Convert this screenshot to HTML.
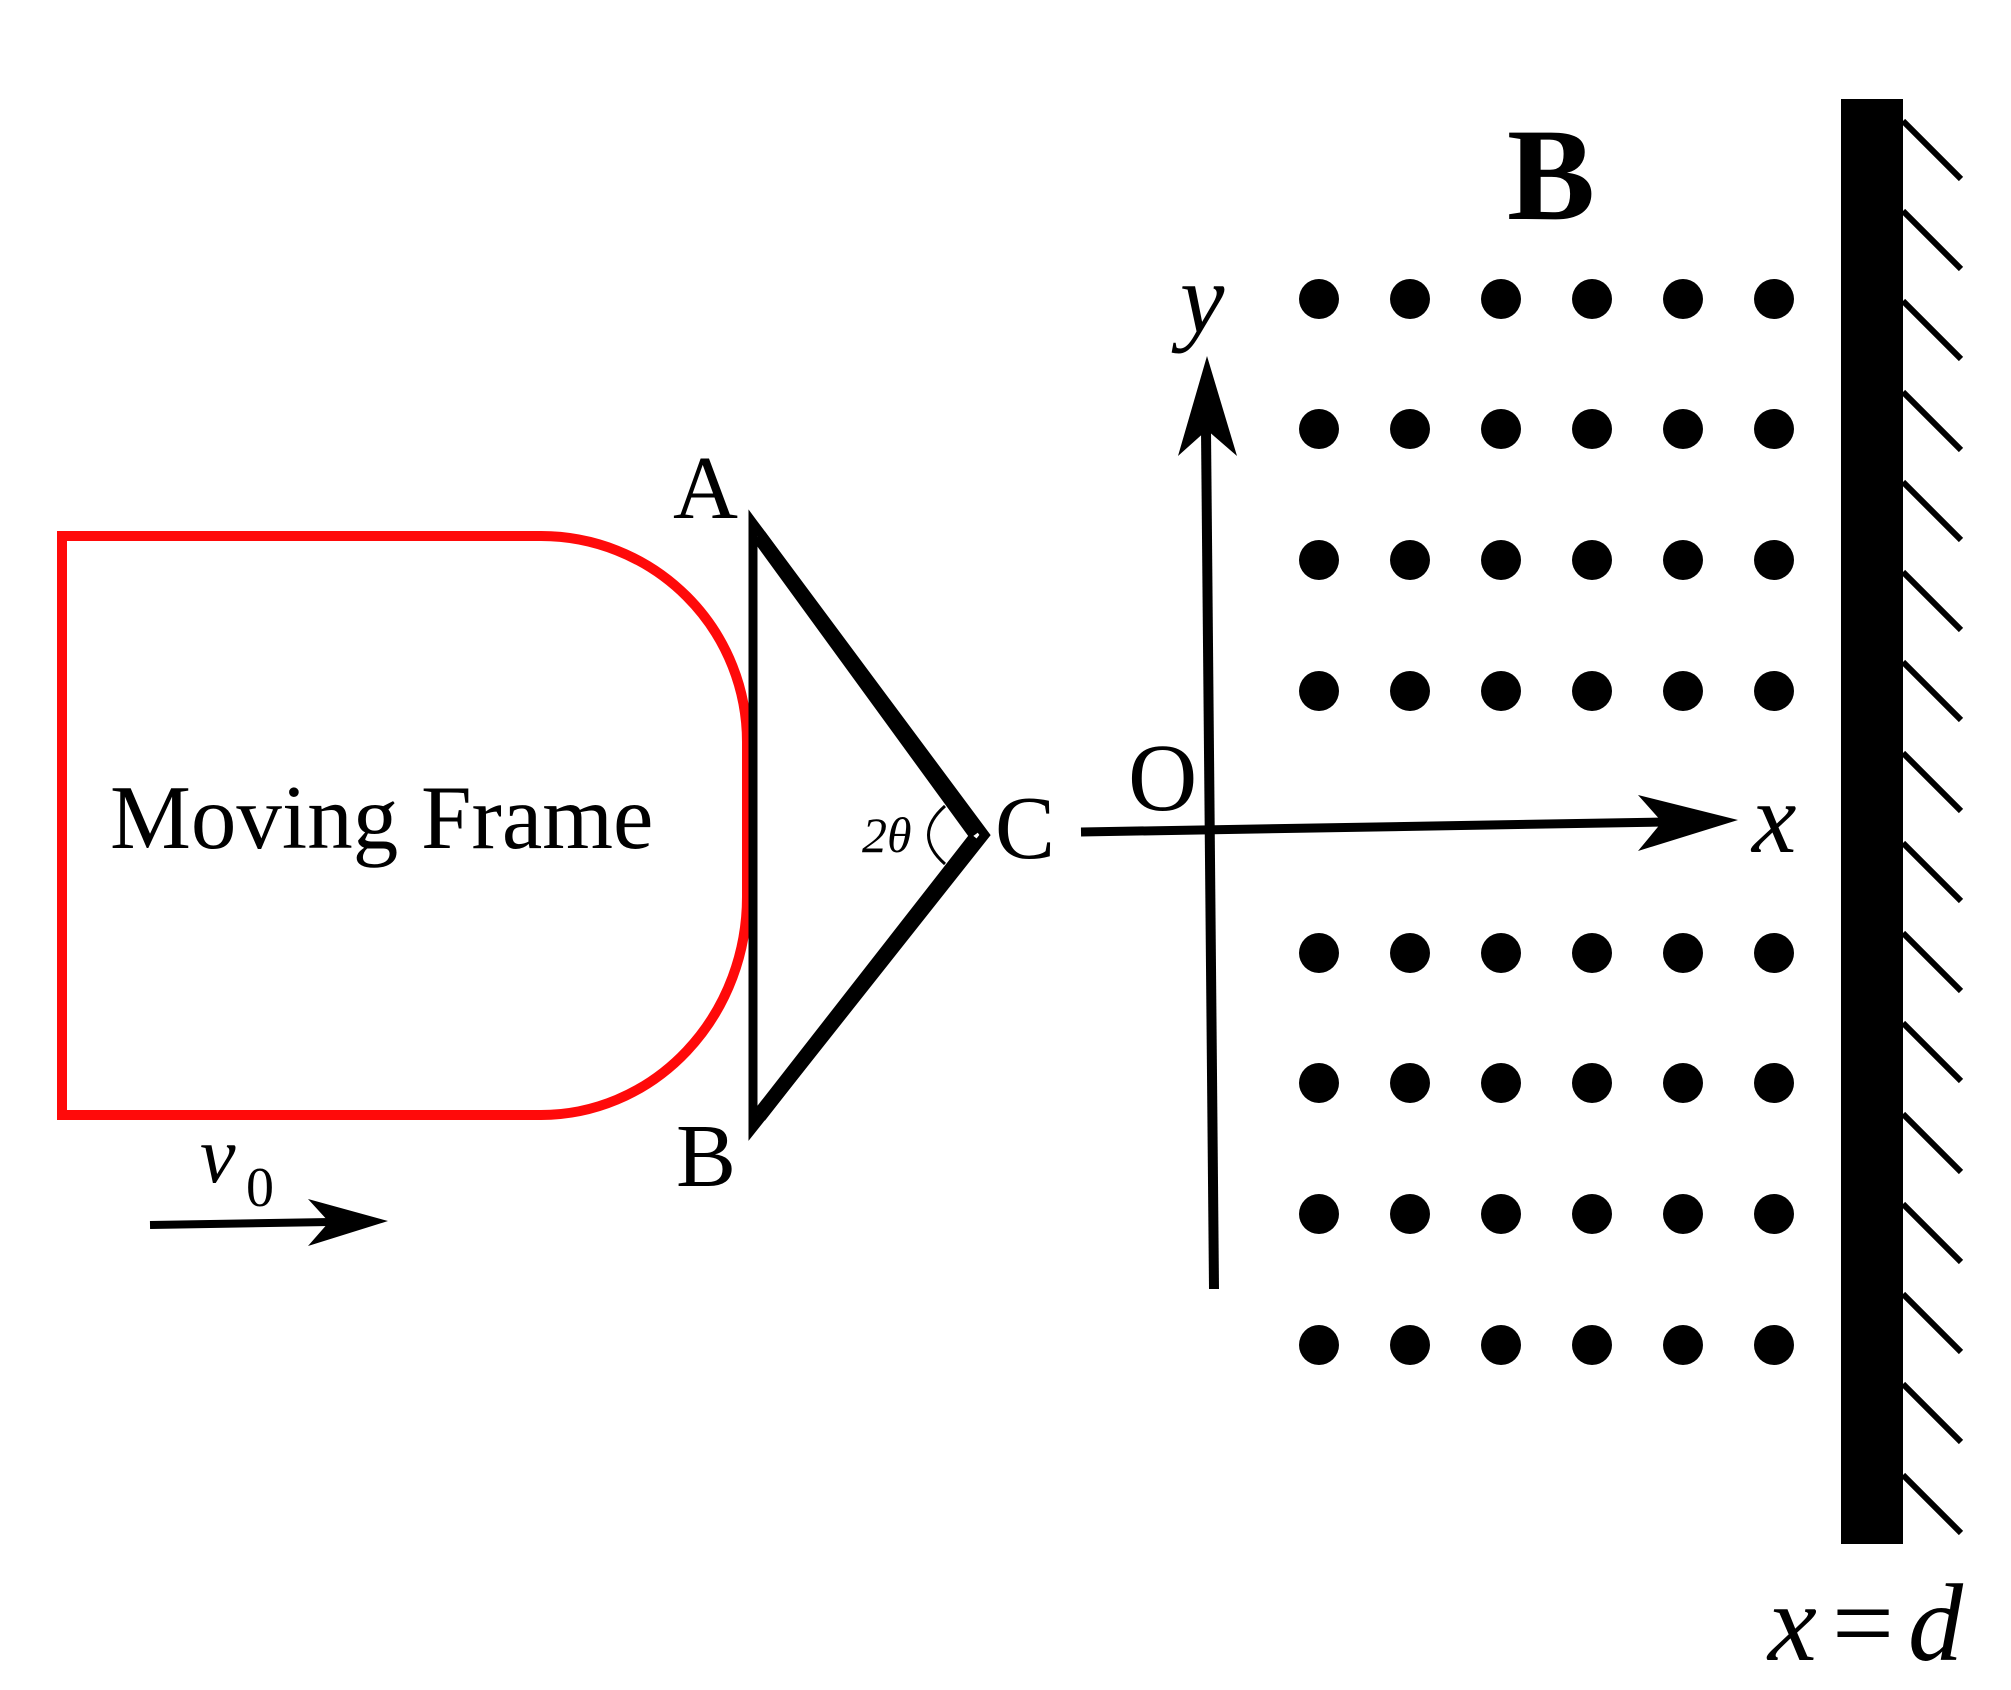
<!DOCTYPE html>
<html><head><meta charset="utf-8"><style>
html,body{margin:0;padding:0;background:#fff;}
svg{display:block;}
text{font-family:"Liberation Serif",serif;fill:#000;}
</style></head><body>
<svg width="2011" height="1690" viewBox="0 0 2011 1690" xmlns="http://www.w3.org/2000/svg">
<!-- red frame -->
<path d="M62,536 H541 A206,206 0 0 1 747,742 V897 A206,218 0 0 1 541,1115 H62 Z" fill="none" stroke="#ff0a0a" stroke-width="10"/>
<text x="110" y="848" font-size="91">Moving Frame</text>
<!-- triangle -->
<polygon points="753,523 985,835 753,1128" fill="none" stroke="#000" stroke-width="9" stroke-linejoin="miter"/>
<line x1="759" y1="536" x2="976" y2="834" stroke="#000" stroke-width="15"/>
<line x1="759" y1="1116" x2="976" y2="838" stroke="#000" stroke-width="15"/>
<path d="M945,806 Q912,835 945,864" fill="none" stroke="#000" stroke-width="3"/>
<text x="862" y="852" font-size="50" font-style="italic">2θ</text>
<text x="673" y="518" font-size="90">A</text>
<text x="676" y="1186" font-size="90">B</text>
<text x="995" y="858" font-size="90">C</text>
<!-- v0 -->
<text x="200" y="1182" font-size="80" font-style="italic">v</text>
<text x="246" y="1206" font-size="56">0</text>
<line x1="150" y1="1225" x2="330" y2="1222" stroke="#000" stroke-width="8"/>
<polygon points="388,1221 308,1199 329,1222 308,1246" fill="#000"/>
<!-- axes -->
<line x1="1081" y1="832" x2="1665" y2="822" stroke="#000" stroke-width="9"/>
<polygon points="1738,820 1638,795 1662,822 1638,851" fill="#000"/>
<line x1="1214" y1="1289" x2="1206" y2="430" stroke="#000" stroke-width="10"/>
<polygon points="1207,356 1178,456 1207,430 1237,456" fill="#000"/>
<text x="1128" y="810" font-size="96">O</text>
<text x="1180" y="332" font-size="100" font-style="italic">y</text>
<text x="1752" y="852" font-size="100" font-style="italic">x</text>
<text x="1507" y="219" font-size="132" font-weight="bold">B</text>
<!-- dots -->
<g fill="#000">
<circle cx="1319" cy="299" r="20"/><circle cx="1410" cy="299" r="20"/><circle cx="1501" cy="299" r="20"/><circle cx="1592" cy="299" r="20"/><circle cx="1683" cy="299" r="20"/><circle cx="1774" cy="299" r="20"/>
<circle cx="1319" cy="429" r="20"/><circle cx="1410" cy="429" r="20"/><circle cx="1501" cy="429" r="20"/><circle cx="1592" cy="429" r="20"/><circle cx="1683" cy="429" r="20"/><circle cx="1774" cy="429" r="20"/>
<circle cx="1319" cy="560" r="20"/><circle cx="1410" cy="560" r="20"/><circle cx="1501" cy="560" r="20"/><circle cx="1592" cy="560" r="20"/><circle cx="1683" cy="560" r="20"/><circle cx="1774" cy="560" r="20"/>
<circle cx="1319" cy="691" r="20"/><circle cx="1410" cy="691" r="20"/><circle cx="1501" cy="691" r="20"/><circle cx="1592" cy="691" r="20"/><circle cx="1683" cy="691" r="20"/><circle cx="1774" cy="691" r="20"/>
<circle cx="1319" cy="953" r="20"/><circle cx="1410" cy="953" r="20"/><circle cx="1501" cy="953" r="20"/><circle cx="1592" cy="953" r="20"/><circle cx="1683" cy="953" r="20"/><circle cx="1774" cy="953" r="20"/>
<circle cx="1319" cy="1083" r="20"/><circle cx="1410" cy="1083" r="20"/><circle cx="1501" cy="1083" r="20"/><circle cx="1592" cy="1083" r="20"/><circle cx="1683" cy="1083" r="20"/><circle cx="1774" cy="1083" r="20"/>
<circle cx="1319" cy="1214" r="20"/><circle cx="1410" cy="1214" r="20"/><circle cx="1501" cy="1214" r="20"/><circle cx="1592" cy="1214" r="20"/><circle cx="1683" cy="1214" r="20"/><circle cx="1774" cy="1214" r="20"/>
<circle cx="1319" cy="1345" r="20"/><circle cx="1410" cy="1345" r="20"/><circle cx="1501" cy="1345" r="20"/><circle cx="1592" cy="1345" r="20"/><circle cx="1683" cy="1345" r="20"/><circle cx="1774" cy="1345" r="20"/>
</g>
<!-- wall -->
<rect x="1841" y="99" width="62" height="1445" fill="#000"/>
<g stroke="#000" stroke-width="6">
<line x1="1903" y1="121" x2="1961" y2="179"/>
<line x1="1903" y1="211" x2="1961" y2="269"/>
<line x1="1903" y1="301" x2="1961" y2="359"/>
<line x1="1903" y1="392" x2="1961" y2="450"/>
<line x1="1903" y1="482" x2="1961" y2="540"/>
<line x1="1903" y1="572" x2="1961" y2="630"/>
<line x1="1903" y1="662" x2="1961" y2="720"/>
<line x1="1903" y1="753" x2="1961" y2="811"/>
<line x1="1903" y1="843" x2="1961" y2="901"/>
<line x1="1903" y1="933" x2="1961" y2="991"/>
<line x1="1903" y1="1023" x2="1961" y2="1081"/>
<line x1="1903" y1="1114" x2="1961" y2="1172"/>
<line x1="1903" y1="1204" x2="1961" y2="1262"/>
<line x1="1903" y1="1294" x2="1961" y2="1352"/>
<line x1="1903" y1="1384" x2="1961" y2="1442"/>
<line x1="1903" y1="1475" x2="1961" y2="1533"/>
</g>
<text x="1768" y="1660" font-size="110" font-style="italic">x</text>
<text x="1832" y="1660" font-size="110">=</text>
<text x="1908" y="1660" font-size="110" font-style="italic">d</text>
</svg>
</body></html>
